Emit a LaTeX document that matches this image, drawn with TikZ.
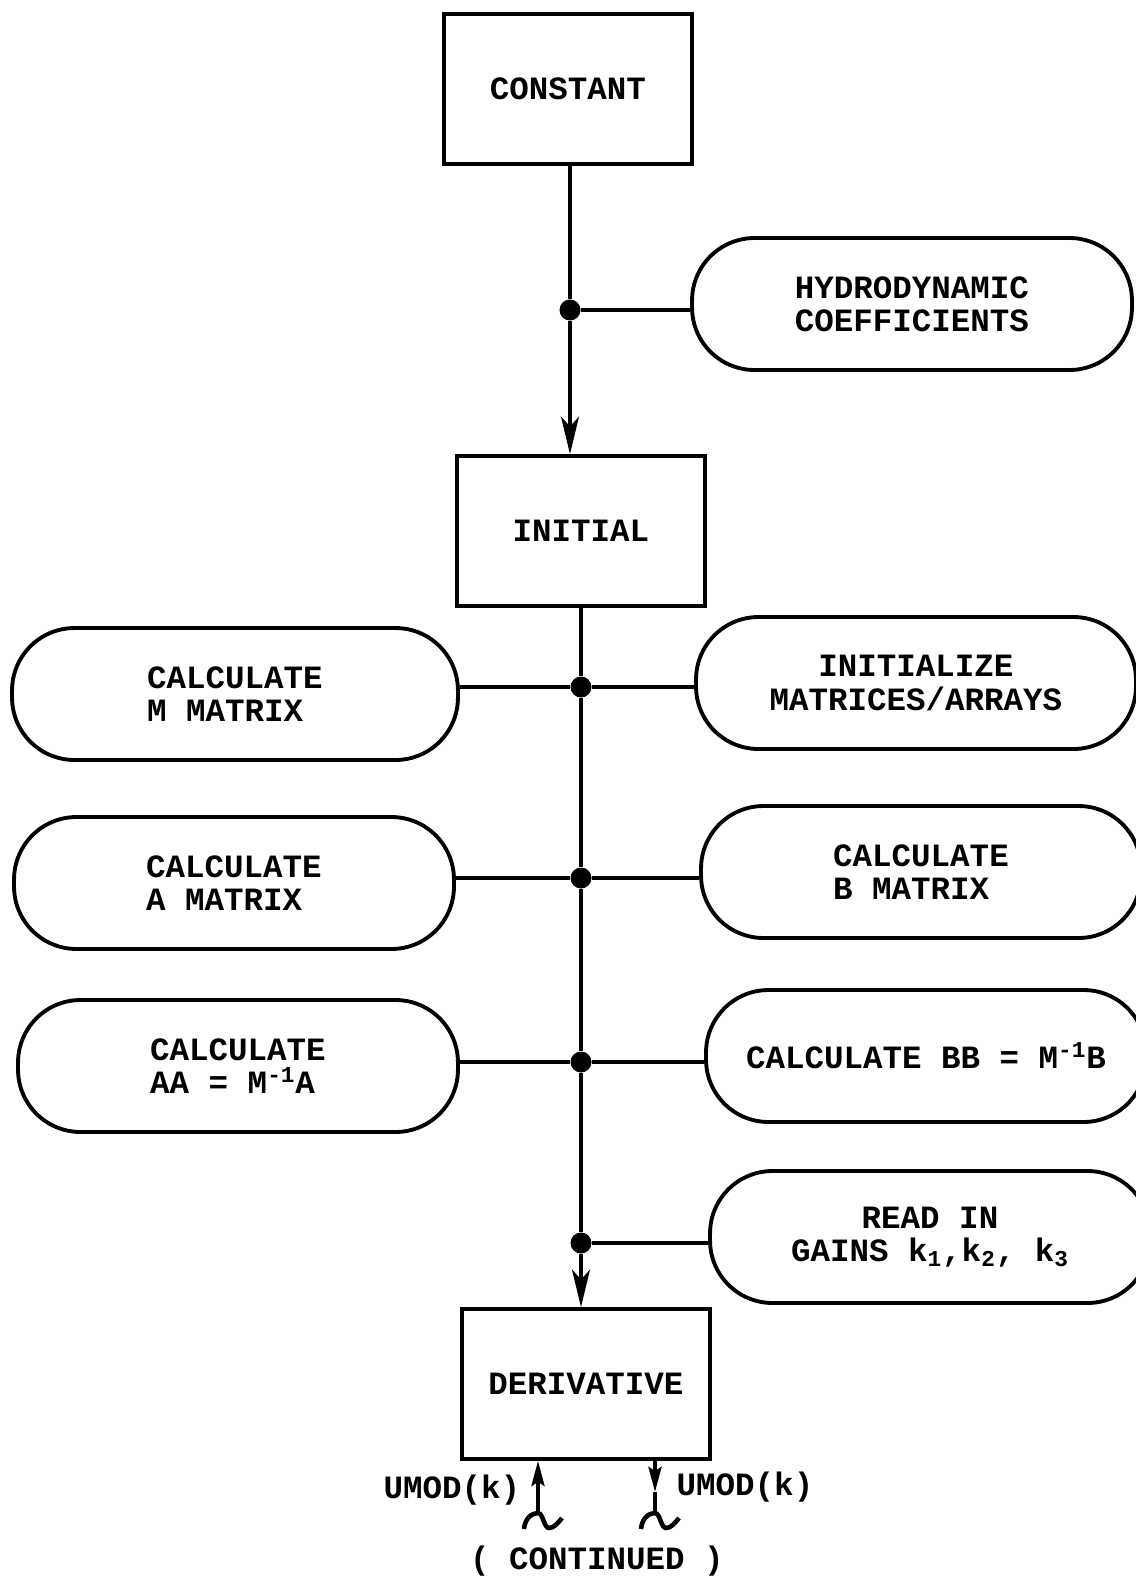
\documentclass[tikz,border=0pt]{standalone}
\usepackage{fontspec}
\setmonofont{Liberation Mono}
\usetikzlibrary{arrows.meta,calc}

\begin{document}
\begin{tikzpicture}[
        x=0.02cm, y=-0.02cm,
        every node/.style={font=\ttfamily\bfseries\fontsize{18.5}{19}\selectfont},
        box/.style={rectangle, draw, line width=2.2pt, minimum width=4.95cm, minimum height=3cm},
        pill/.style={rectangle, draw, line width=2.2pt, rounded corners=1.25cm, minimum width=8.8cm, minimum height=2.64cm},
        line/.style={line width=2.2pt},
        flow/.style={line width=2.2pt, -{Stealth[length=0.75cm, width=0.36cm, inset=0.2cm]}},
        umod/.style={line width=2.2pt, -{Stealth[length=0.5cm, width=0.26cm, inset=0.08cm]}},
        dot/.style={circle, fill, inner sep=0pt, minimum size=0.42cm},
        umodtail/.pic={\draw[line, line width=2.6pt] (-14,16) .. controls (-13,5) and (-6,0) .. (0,0) .. controls (5,0) and (6,15) .. (11,15) .. controls (16,15) and (20,10) .. (24,5);}
        ]
      \useasboundingbox (0,0) rectangle (1136,1576);
      % main blocks
      \node[box] (constant) at (568,89) {CONSTANT};
      \node[box] (initial) at (581,531) {INITIAL};
      \node[box] (derivative) at (586,1384) {DERIVATIVE};
      % side blocks
      \node[pill, align=center] (hydro) at (912,304) {HYDRODYNAMIC\\COEFFICIENTS};
      \node[pill, minimum width=8.92cm, align=left] (calcm) at (235,694) {CALCULATE\\M MATRIX};
      \node[pill, align=center] (initmat) at (916,683) {INITIALIZE\\MATRICES/ARRAYS};
      \node[pill, align=left] (calca) at (234,883) {CALCULATE\\A MATRIX};
      \node[pill, align=left] (calcb) at (921,872) {CALCULATE\\B MATRIX};
      \node[pill, align=left] (calcaa) at (238,1066) {CALCULATE\\AA = M\textsuperscript{-1}A};
      \node[pill] (calcbb) at (926,1056) {CALCULATE BB = M\textsuperscript{-1}B};
      \node[pill, align=center] (gains) at (930,1237) {READ IN\\GAINS k\textsubscript{1},k\textsubscript{2}, k\textsubscript{3}};
      % junctions
      \node[dot] (d0) at (570,310) {};
      \node[dot] (d1) at (581,687) {};
      \node[dot] (d2) at (581,878) {};
      \node[dot] (d3) at (581,1062) {};
      \node[dot] (d4) at (581,1243) {};
      % texts at the bottom
      \node (umodin) at (452,1490) {UMOD(k)};
      \node (umodout) at (745,1487) {UMOD(k)};
      \node (cont) at (597,1561) {( CONTINUED )};
      \coordinate (u1) at (538,1513);
      \coordinate (u2) at (655,1513);
      \coordinate (u2mid) at (655,1492);
      % connectors
      \draw[line] (constant.south -| d0) -- (d0);
      \draw[flow] (d0) -- (d0 |- initial.north);
      \draw[line] (d0) -- (d0 -| hydro.west);
      \draw[line] (initial.south -| d1) -- (d1) -- (d2) -- (d3) -- (d4);
      \draw[flow] (d4) -- (d4 |- derivative.north);
      \draw[line] (d1) -- (d1 -| calcm.east);
      \draw[line] (d1) -- (d1 -| initmat.west);
      \draw[line] (d2) -- (d2 -| calca.east);
      \draw[line] (d2) -- (d2 -| calcb.west);
      \draw[line] (d3) -- (d3 -| calcaa.east);
      \draw[line] (d3) -- (d3 -| calcbb.west);
      \draw[line] (d4) -- (d4 -| gains.west);
      \draw[umod] (u1) -- (u1 |- derivative.south);
      \draw[umod] (u2 |- derivative.south) -- (u2mid);
      \draw[line] (u2mid) -- (u2);
      \pic at (u1) {umodtail};
      \pic at (u2) {umodtail};
    \end{tikzpicture}
\end{document}
